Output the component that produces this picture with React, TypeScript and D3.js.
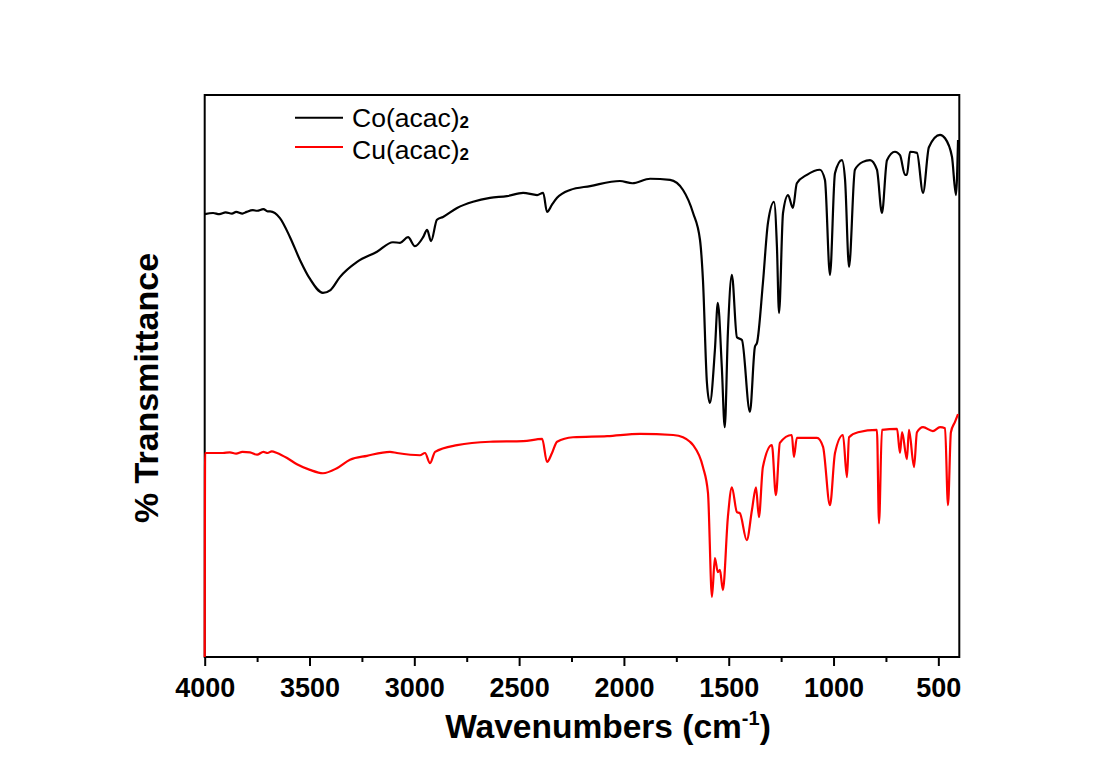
import { useEffect, useRef } from 'react';
import * as d3 from 'd3';

// wavenumber (cm-1) and % transmittance
const coWave = [4000, 3960, 3930, 3900, 3870, 3850, 3820, 3800, 3770, 3750, 3720, 3700, 3688, 3641, 3593, 3545, 3500, 3436, 3400, 3355, 3273, 3178, 3102, 3068, 3030, 2997, 2958, 2939, 2920, 2892, 2863, 2796, 2720, 2639, 2558, 2481, 2414, 2385, 2367, 2343, 2319, 2257, 2161, 2019, 1960, 1875, 1780, 1718, 1670, 1637, 1623, 1604, 1590, 1566, 1552, 1533, 1519, 1504, 1485, 1461, 1437, 1399, 1375, 1365, 1337, 1313, 1284, 1270, 1260, 1241, 1217, 1194, 1175, 1127, 1065, 1041, 1017, 993, 960, 945, 926, 898, 860, 826, 793, 769, 745, 707, 683, 659, 650, 635, 602, 573, 545, 492, 468, 435, 416, 406];
const coT = [78.8, 79.0, 78.8, 79.1, 78.9, 79.2, 78.9, 79.2, 79.5, 79.4, 79.7, 79.3, 79.3, 78.1, 74.7, 70.6, 67.4, 64.8, 65.3, 67.6, 70.3, 72.1, 73.8, 73.7, 74.7, 73.1, 74.7, 76.0, 74.0, 77.8, 78.3, 79.9, 81.0, 81.7, 82.0, 82.6, 82.2, 82.6, 79.2, 80.5, 81.7, 83.1, 83.8, 84.7, 84.3, 85.1, 84.9, 83.1, 79.0, 74.2, 67.1, 48.8, 45.2, 54.6, 63.0, 51.6, 40.9, 57.7, 68.0, 56.9, 56.4, 43.6, 55.2, 55.9, 66.5, 77.2, 81.0, 73.0, 61.2, 79.0, 82.2, 79.9, 84.3, 85.8, 86.7, 84.9, 68.0, 86.1, 88.4, 84.9, 69.4, 86.7, 88.1, 88.4, 86.7, 79.0, 88.4, 89.9, 89.3, 85.8, 85.8, 89.9, 89.7, 82.6, 90.7, 92.9, 92.3, 89.0, 82.2, 92.0];

const cuWave = [4000, 3998, 3960, 3913, 3880, 3850, 3820, 3784, 3750, 3720, 3700, 3680, 3655, 3607, 3560, 3498, 3436, 3369, 3307, 3226, 3116, 3083, 2973, 2949, 2925, 2901, 2796, 2639, 2481, 2390, 2367, 2343, 2319, 2243, 2080, 1923, 1765, 1718, 1685, 1670, 1623, 1599, 1580, 1566, 1552, 1542, 1528, 1504, 1485, 1461, 1447, 1414, 1389, 1370, 1356, 1337, 1294, 1275, 1256, 1199, 1189, 1175, 1079, 1050, 1017, 993, 955, 936, 926, 883, 793, 783, 769, 697, 683, 673, 650, 640, 616, 602, 573, 526, 492, 468, 454, 440, 421, 406];
const cuT = [0, 36.3, 36.3, 36.3, 36.4, 36.2, 36.5, 36.4, 36.0, 36.5, 36.3, 36.6, 36.3, 35.4, 34.3, 33.3, 32.7, 33.6, 35.1, 35.8, 36.5, 36.3, 35.9, 36.3, 34.5, 36.5, 37.7, 38.3, 38.4, 38.8, 34.7, 36.3, 38.3, 39.1, 39.3, 39.7, 39.5, 39.1, 38.3, 37.7, 33.8, 29.2, 10.7, 17.6, 15.1, 15.5, 11.9, 24.9, 30.2, 25.8, 25.6, 20.8, 26.2, 30.2, 24.9, 33.8, 37.7, 28.8, 38.1, 39.5, 35.6, 39.0, 39.0, 37.4, 27.0, 36.3, 39.5, 32.0, 39.1, 40.0, 40.4, 23.8, 40.4, 40.6, 36.3, 40.0, 35.2, 40.4, 33.8, 40.0, 40.9, 40.2, 40.9, 40.7, 27.0, 40.0, 41.8, 43.2];

const majorTicks = [4000, 3500, 3000, 2500, 2000, 1500, 1000, 500];
const minorTicks = [3750, 3250, 2750, 2250, 1750, 1250, 750];

const seriesNames = ['Co(acac)', 'Cu(acac)'];
const seriesColors = ['#000000', '#ff0000'];

const FONT = 'Arial, "Liberation Sans", sans-serif';

export default function App() {
  const svgRef = useRef<SVGSVGElement>(null);
  const width = 1100;
  const height = 778;
  const left = 204.7;
  const right = 959.3;
  const top = 95;
  const bottom = 657;

  useEffect(() => {
    if (!svgRef.current) return;
    const svg = d3.select(svgRef.current);
    svg.selectAll('*').remove();

    const x = d3.scaleLinear().domain([4000, 400]).range([left, right]);
    const y = d3.scaleLinear().domain([0, 100]).range([bottom, top]);

    const line = d3.line<[number, number]>()
      .x(d => x(d[0]))
      .y(d => y(d[1]))
      .curve(d3.curveMonotoneX);

    const series = [
      coWave.map((w, i) => [w, coT[i]] as [number, number]),
      cuWave.map((w, i) => [w, cuT[i]] as [number, number])
    ];

    svg.append('rect').attr('width', width).attr('height', height).attr('fill', '#fff');

    // frame
    svg.append('rect')
      .attr('x', left)
      .attr('y', top)
      .attr('width', right - left)
      .attr('height', bottom - top)
      .attr('fill', 'none')
      .attr('stroke', '#000')
      .attr('stroke-width', 2);

    // spectra on top of the frame
    [1, 0].forEach(i => {
      svg.append('path')
        .datum(series[i])
        .attr('fill', 'none')
        .attr('stroke', seriesColors[i])
        .attr('stroke-width', 2.2)
        .attr('stroke-linejoin', 'round')
        .attr('d', line);
    });

    // x axis
    svg.append('g').attr('transform', `translate(0,${bottom})`)
      .call(d3.axisBottom(x).tickValues(majorTicks).tickSize(9).tickPadding(12).tickFormat(d3.format('d')))
      .call(g => g.select('.domain').remove())
      .call(g => g.selectAll('.tick line').attr('stroke-width', 2))
      .call(g => g.selectAll('.tick text')
        .attr('font-family', FONT)
        .attr('font-size', 27)
        .attr('font-weight', 'bold')
        .attr('fill', '#000'));
    svg.append('g').attr('transform', `translate(0,${bottom})`)
      .call(d3.axisBottom(x).tickValues(minorTicks).tickSize(5).tickFormat(() => ''))
      .call(g => g.select('.domain').remove())
      .call(g => g.selectAll('.tick line').attr('stroke-width', 2));

    // axis titles
    const xt = svg.append('text')
      .attr('x', 608)
      .attr('y', 738)
      .attr('text-anchor', 'middle')
      .attr('font-family', FONT)
      .attr('font-size', 33.5)
      .attr('font-weight', 'bold');
    xt.append('tspan').text('Wavenumbers (cm');
    xt.append('tspan').attr('font-size', 20).attr('dy', -13).text('-1');
    xt.append('tspan').attr('dy', 13).text(')');

    svg.append('text')
      .attr('transform', `translate(158,388) rotate(-90)`)
      .attr('text-anchor', 'middle')
      .attr('font-family', FONT)
      .attr('font-size', 34)
      .attr('font-weight', 'bold')
      .text('% Transmittance');

    // legend
    const legendY = [117.7, 147];
    seriesNames.forEach((name, i) => {
      svg.append('line')
        .attr('x1', 295)
        .attr('x2', 343)
        .attr('y1', legendY[i])
        .attr('y2', legendY[i])
        .attr('stroke', seriesColors[i])
        .attr('stroke-width', 2);
      const t = svg.append('text')
        .attr('x', 352)
        .attr('y', legendY[i] + 9.5 + (i === 1 ? 2 : 0))
        .attr('font-family', FONT)
        .attr('font-size', 26.5)
        .attr('fill', '#000');
      t.append('tspan').text(name);
      t.append('tspan').attr('font-size', 17).attr('font-weight', 'bold').attr('dy', 1).text('2');
    });
  }, []);

  return (
    <svg
      ref={svgRef}
      width={width}
      height={height}
      style={{ position: 'absolute', left: 0, top: 0 }}
    />
  );
}
